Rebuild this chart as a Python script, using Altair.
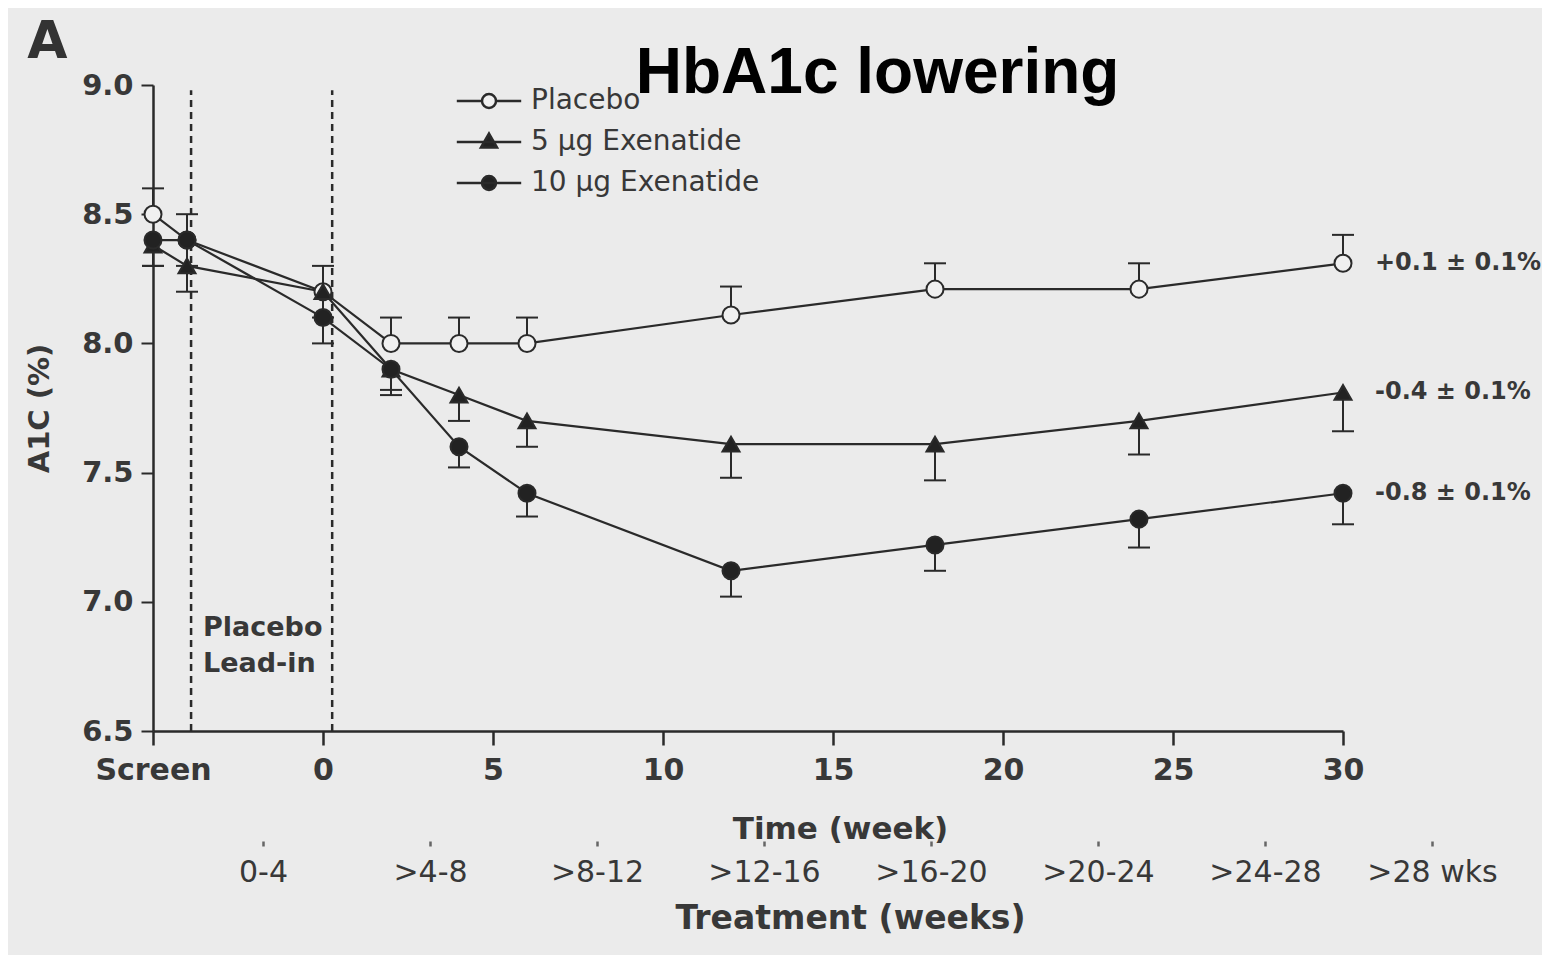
import json
import altair as alt
import pandas as pd

# ---------------- data ----------------
weeks = [-5, -4, 0, 2, 4, 6, 12, 18, 24, 30]
series_names = ["Placebo", "5 µg Exenatide", "10 µg Exenatide"]
placebo = [8.5, 8.4, 8.2, 8.0, 8.0, 8.0, 8.11, 8.21, 8.21, 8.31]
placebo_err = [0.1, 0.1, 0.1, 0.1, 0.1, 0.1, 0.11, 0.1, 0.1, 0.11]
exen5 = [8.38, 8.3, 8.2, 7.9, 7.8, 7.7, 7.61, 7.61, 7.7, 7.81]
exen5_err = [0.08, 0.1, 0.1, 0.1, 0.1, 0.1, 0.13, 0.14, 0.13, 0.15]
exen10 = [8.4, 8.4, 8.1, 7.9, 7.6, 7.42, 7.12, 7.22, 7.32, 7.42]
exen10_err = [0.1, 0.1, 0.1, 0.08, 0.08, 0.09, 0.1, 0.1, 0.11, 0.12]
err_direction = [1, -1, -1]  # placebo bars drawn upward, exenatide downward

end_labels = ["+0.1 ± 0.1%", "-0.4 ± 0.1%", "-0.8 ± 0.1%"]
x_ticks = [-5, 0, 5, 10, 15, 20, 25, 30]
y_ticks = [6.5, 7.0, 7.5, 8.0, 8.5, 9.0]
treat_labels = ["0-4", ">4-8", ">8-12", ">12-16", ">16-20", ">20-24", ">24-28", ">28 wks"]
lead_lines = ["Placebo", "Lead-in"]
lead_x = -3.53
lead_y = [6.9, 6.76]
dashed_weeks = [-3.88, 0.27]
dashed_from, dashed_to = 6.5, 8.98
panel_label = "A"
panel_x, panel_y = -8.7, 9.104
title_text = "HbA1c lowering"
title_x, title_y = 9.2, 8.969

# ---------------- tables ----------------
vals = [placebo, exen5, exen10]
errs = [placebo_err, exen5_err, exen10_err]
rows = []
for name, v, e, d in zip(series_names, vals, errs, err_direction):
    for w, y, s in zip(weeks, v, e):
        rows.append({"series": name, "week": w, "val": y, "end": round(y + d * s, 3)})
df = pd.DataFrame(rows)

end_df = pd.DataFrame({"week": [weeks[-1]] * 3, "val": [v[-1] for v in vals], "label": end_labels})
lead_df = pd.DataFrame({"week": [lead_x] * len(lead_lines), "val": lead_y, "label": lead_lines})
dash_df = pd.DataFrame({"week": dashed_weeks, "val": [dashed_from] * 2, "end": [dashed_to] * 2})
panel_df = pd.DataFrame({"week": [panel_x], "val": [panel_y], "label": [panel_label]})
title_df = pd.DataFrame({"week": [title_x], "val": [title_y], "label": [title_text]})
treat_df = pd.DataFrame({"idx": list(range(len(treat_labels)))})
legend_df = pd.DataFrame({"legend": series_names})

FONT = "DejaVu Sans"
INK = "#2a2a2a"
TXT = "#383838"

x_scale = alt.Scale(domain=[-5, 30], nice=False, zero=False)
y_scale = alt.Scale(domain=[6.5, 9.0], nice=False, zero=False)

x_axis = alt.Axis(
    values=x_ticks,
    labelExpr="datum.value == -5 ? 'Screen' : datum.label",
    title="Time (week)", titleX=687, titleY=107, titleBaseline="alphabetic", titleAlign="center",
    titleFont=FONT, titleFontSize=31, titleFontWeight="bold", titleColor=TXT,
    labelFont=FONT, labelFontSize=30, labelFontWeight="bold", labelColor=TXT,
    labelPadding=10, labelFlush=False, labelOverlap=False,
    tickSize=14, tickWidth=2.5, tickColor=INK, domainColor=INK, domainWidth=2.5, grid=False,
)
y_axis = alt.Axis(
    values=y_ticks, format=".1f",
    title="A1C (%)", titlePadding=27,
    titleFont=FONT, titleFontSize=29, titleFontWeight="bold", titleColor=TXT,
    labelFont=FONT, labelFontSize=29, labelFontWeight="bold", labelColor=TXT,
    labelPadding=8, labelFlush=False, labelOverlap=False,
    tickSize=12, tickWidth=2, tickColor=INK, domainColor=INK, domainWidth=2.5, grid=False,
)
X = alt.X("week:Q", scale=x_scale, axis=x_axis)
Y = alt.Y("val:Q", scale=y_scale, axis=y_axis)

dashed = alt.Chart(dash_df).mark_rule(color=INK, strokeWidth=2.5, strokeDash=[7, 5]).encode(
    x=X, y=Y, y2="end:Q")
err_rules = alt.Chart(df).mark_rule(color=INK, strokeWidth=2).encode(x=X, y=Y, y2="end:Q")
err_caps = alt.Chart(df).mark_tick(orient="horizontal", size=22, thickness=2, color=INK, opacity=1).encode(
    x=X, y=alt.Y("end:Q", scale=y_scale, axis=y_axis))
lines = alt.Chart(df).mark_line(color=INK, strokeWidth=2.2).encode(x=X, y=Y, detail="series:N")
points = alt.Chart(df).mark_point(filled=True, size=290, opacity=1, stroke=INK, strokeWidth=2).encode(
    x=X, y=Y,
    shape=alt.Shape("series:N", scale=alt.Scale(domain=series_names, range=["circle", "triangle-up", "circle"]), legend=None),
    fill=alt.Fill("series:N", scale=alt.Scale(domain=series_names, range=["#f0f0f0", "#222222", "#222222"]), legend=None),
)
end_text = alt.Chart(end_df).mark_text(align="left", baseline="middle", dx=32, font=FONT, fontSize=24,
                                       fontWeight="bold", color=TXT).encode(x=X, y=Y, text="label:N")
lead_text = alt.Chart(lead_df).mark_text(align="left", baseline="middle", font=FONT, fontSize=27,
                                         fontWeight="bold", color=TXT).encode(x=X, y=Y, text="label:N")
panel_text = alt.Chart(panel_df).mark_text(align="left", baseline="alphabetic", font=FONT, fontSize=52,
                                           fontWeight="bold", color="#333333").encode(x=X, y=Y, text="label:N")
title_mark = alt.Chart(title_df).mark_text(align="left", baseline="alphabetic", font="Liberation Sans",
                                           fontSize=64, fontWeight="bold", color="#000000").encode(
    x=X, y=Y, text="label:N")

main = alt.layer(dashed, err_rules, err_caps, lines, points, end_text, lead_text, panel_text, title_mark)

treat_expr = json.dumps(treat_labels) + "[datum.value]"
treat_layer = alt.Chart(treat_df).mark_point(opacity=0).encode(
    x=alt.X("idx:Q", scale=alt.Scale(domain=[0, len(treat_labels) - 1], range=[110, 1279], nice=False, zero=False),
            axis=alt.Axis(orient="bottom", offset=110, values=list(range(len(treat_labels))),
                          labelExpr=treat_expr, domain=False, tickSize=5, tickWidth=2.5, tickColor="#666666",
                          labelFont=FONT, labelFontSize=30, labelColor=TXT, labelPadding=11,
                          labelFlush=False, labelOverlap=False, grid=False,
                          title="Treatment (weeks)", titleX=697, titleY=87, titleBaseline="alphabetic",
                          titleAlign="center", titleFont=FONT, titleFontSize=33, titleFontWeight="bold",
                          titleColor=TXT))
)

legend_paths = [
    "M-4.6,0L-1,0M1,0L4.6,0M1,0A1,1,0,1,1,-1,0A1,1,0,1,1,1,0Z",
    "M-4.6,0L4.6,0M0,-1.2L1.15,0.8L-1.15,0.8Z",
    "M-4.6,0L4.6,0M1,0A1,1,0,1,1,-1,0A1,1,0,1,1,1,0Z",
]
leg = alt.Legend(title=None, orient="none", legendX=322, legendY=2, padding=0,
                 symbolSize=196, symbolStrokeWidth=2.5,
                 labelFont=FONT, labelFontSize=28, labelColor=TXT, labelOffset=28,
                 rowPadding=13, labelLimit=0)
legend_layer = alt.Chart(legend_df).mark_point(filled=True, opacity=1, stroke=INK, strokeWidth=2.5).encode(
    shape=alt.Shape("legend:N", scale=alt.Scale(domain=series_names, range=legend_paths), legend=leg),
    fill=alt.Fill("legend:N", scale=alt.Scale(domain=series_names, range=["#f0f0f0", "#222222", "#222222"]), legend=leg),
).transform_filter("false")

chart = alt.layer(main, treat_layer, legend_layer).resolve_scale(
    x="independent", shape="independent", fill="independent"
).properties(
    width=1190, height=646,
    padding={"left": 145, "top": 77, "right": 199, "bottom": 224},
    autosize=alt.AutoSizeParams(type="none"),
).configure(background="#ebebeb").configure_view(stroke=None)

chart.save("out.html", embed_options={"renderer": "svg", "actions": False})
